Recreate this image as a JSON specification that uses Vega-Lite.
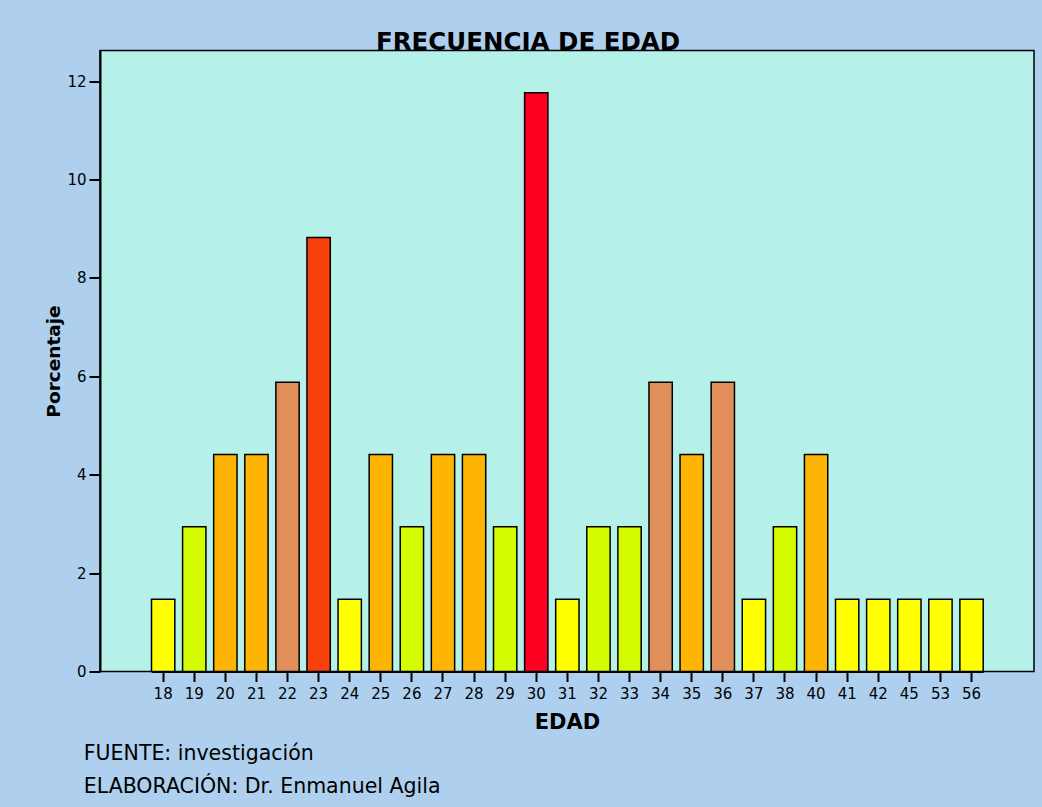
{
  "$schema": "https://vega.github.io/schema/vega-lite/v6.json",
  "width": 934,
  "height": 621,
  "autosize": {"type": "none"},
  "padding": {"left": 100, "top": 50.5, "right": 8, "bottom": 135.5},
  "background": "#aed0ee",
  "config": {
    "view": {"fill": "#b5f1e9", "stroke": "#000000", "strokeWidth": 1.5},
    "font": "DejaVu Sans"
  },
  "data": {
    "values": [
      {"edad": "18", "frecuencia": 1, "porcentaje": 1.47},
      {"edad": "19", "frecuencia": 2, "porcentaje": 2.94},
      {"edad": "20", "frecuencia": 3, "porcentaje": 4.41},
      {"edad": "21", "frecuencia": 3, "porcentaje": 4.41},
      {"edad": "22", "frecuencia": 4, "porcentaje": 5.88},
      {"edad": "23", "frecuencia": 6, "porcentaje": 8.82},
      {"edad": "24", "frecuencia": 1, "porcentaje": 1.47},
      {"edad": "25", "frecuencia": 3, "porcentaje": 4.41},
      {"edad": "26", "frecuencia": 2, "porcentaje": 2.94},
      {"edad": "27", "frecuencia": 3, "porcentaje": 4.41},
      {"edad": "28", "frecuencia": 3, "porcentaje": 4.41},
      {"edad": "29", "frecuencia": 2, "porcentaje": 2.94},
      {"edad": "30", "frecuencia": 8, "porcentaje": 11.76},
      {"edad": "31", "frecuencia": 1, "porcentaje": 1.47},
      {"edad": "32", "frecuencia": 2, "porcentaje": 2.94},
      {"edad": "33", "frecuencia": 2, "porcentaje": 2.94},
      {"edad": "34", "frecuencia": 4, "porcentaje": 5.88},
      {"edad": "35", "frecuencia": 3, "porcentaje": 4.41},
      {"edad": "36", "frecuencia": 4, "porcentaje": 5.88},
      {"edad": "37", "frecuencia": 1, "porcentaje": 1.47},
      {"edad": "38", "frecuencia": 2, "porcentaje": 2.94},
      {"edad": "40", "frecuencia": 3, "porcentaje": 4.41},
      {"edad": "41", "frecuencia": 1, "porcentaje": 1.47},
      {"edad": "42", "frecuencia": 1, "porcentaje": 1.47},
      {"edad": "45", "frecuencia": 1, "porcentaje": 1.47},
      {"edad": "53", "frecuencia": 1, "porcentaje": 1.47},
      {"edad": "56", "frecuencia": 1, "porcentaje": 1.47}
    ]
  },
  "layer": [
    {
      "mark": {"type": "bar", "stroke": "#000000", "strokeWidth": 1.5},
      "encoding": {
        "x": {
          "field": "edad",
          "type": "ordinal",
          "scale": {"paddingInner": 0.25, "paddingOuter": 0, "range": [51.5, 883.2]},
          "axis": {
            "orient": "bottom",
            "title": "EDAD",
            "titleFont": "DejaVu Sans",
            "titleFontSize": 21,
            "titleFontWeight": "bold",
            "titleColor": "#000000",
            "titleBaseline": "alphabetic",
            "titleX": 467,
            "titleY": 57,
            "labelAngle": 0,
            "labelFontSize": 15,
            "labelColor": "#000000",
            "labelBaseline": "alphabetic",
            "labelPadding": 17,
            "tickSize": 10,
            "tickWidth": 2,
            "tickColor": "#000000",
            "domainColor": "#000000",
            "domainWidth": 2,
            "grid": false
          }
        },
        "y": {
          "field": "porcentaje",
          "type": "quantitative",
          "scale": {"domain": [0, 12.62], "nice": false, "zero": true},
          "axis": {
            "orient": "left",
            "title": "Porcentaje",
            "titleFont": "DejaVu Sans",
            "titleFontSize": 18.5,
            "titleFontWeight": "bold",
            "titleColor": "#000000",
            "titleAngle": -90,
            "titleBaseline": "alphabetic",
            "titleX": -41,
            "titleY": 310.5,
            "values": [0, 2, 4, 6, 8, 10, 12],
            "labelFontSize": 15,
            "labelColor": "#000000",
            "labelPadding": 3,
            "tickSize": 11,
            "tickWidth": 2,
            "tickColor": "#000000",
            "domainColor": "#000000",
            "domainWidth": 2,
            "grid": false
          }
        },
        "color": {
          "field": "frecuencia",
          "type": "ordinal",
          "scale": {
            "domain": [1, 2, 3, 4, 6, 8],
            "range": ["#ffff00", "#d4fb00", "#fdb402", "#e08f5b", "#f9410b", "#fe0021"]
          },
          "legend": null
        }
      }
    },
    {
      "mark": {"type": "bar", "opacity": 0},
      "encoding": {
        "x": {
          "field": "edad",
          "type": "ordinal",
          "scale": {"paddingInner": 0.25, "paddingOuter": 0, "range": [51.5, 883.2]},
          "axis": {
            "orient": "top",
            "title": "FRECUENCIA DE EDAD",
            "titleFont": "DejaVu Sans",
            "titleFontSize": 24.5,
            "titleFontWeight": "bold",
            "titleColor": "#000000",
            "titleBaseline": "alphabetic",
            "titleAlign": "center",
            "titleX": 427.5,
            "titleY": -1,
            "labels": false,
            "ticks": false,
            "domain": false,
            "grid": false
          }
        },
        "y": {
          "field": "porcentaje",
          "type": "quantitative",
          "scale": {"domain": [0, 12.62], "nice": false, "zero": true},
          "axis": {
            "orient": "right",
            "title": ["FUENTE: investigación", "ELABORACIÓN: Dr. Enmanuel Agila"],
            "titleFont": "DejaVu Sans",
            "titleFontSize": 20.5,
            "titleFontWeight": "normal",
            "titleColor": "#000000",
            "titleAngle": 0,
            "titleAlign": "left",
            "titleBaseline": "alphabetic",
            "titleLineHeight": 33.4,
            "titleX": -950.7,
            "titleY": 708.8,
            "labels": false,
            "ticks": false,
            "domain": false,
            "grid": false
          }
        }
      }
    }
  ],
  "resolve": {"axis": {"x": "independent", "y": "independent"}}
}
